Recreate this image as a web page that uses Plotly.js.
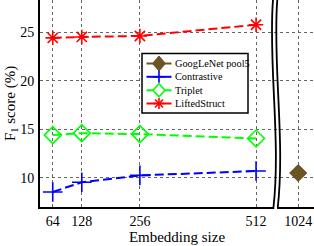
<!DOCTYPE html>
<html>
<head>
<meta charset="utf-8">
<script src="https://cdn.plot.ly/plotly-3.0.1.min.js"></script>
<style>html,body{margin:0;padding:0;background:#fff;}#chart{width:314px;height:246px;}</style>
</head>
<body>
<div id="chart"></div>
<script>
// Data
var embeddingSizes = [64, 128, 256, 512];
var baselineSize = [1024];
var contrastive = [8.55, 9.55, 10.25, 10.7];
var triplet = [14.4, 14.6, 14.5, 14.05];
var liftedStruct = [24.4, 24.5, 24.6, 25.75];
var googlenetPool5 = [10.5];
var seriesNames = ['GoogLeNet pool5', 'Contrastive', 'Triplet', 'LiftedStruct'];
var xTickVals = [64, 128, 256, 512, 1024];
var xTickText = ['64', '128', '256', '512', '1024'];
var yTickVals = [10, 15, 20, 25];

// Broken-axis scale: values above 512 are compressed after the break
function brokenX(v) { return v <= 512 ? v : 512 + (v - 512) * 0.1816; }

var W = 314, H = 246, L = 40, R = 0, T = 0, B = 39;
var pw = W - L - R, ph = H - T - B;
function px(x) { return (x - L) / pw; }
function py(y) { return 1 - (y - T) / ph; }

var font = 'Liberation Serif';
var colors = ['#6b5423', '#0000ff', '#00ff00', '#ff0000'];

var traces = [
  {x: baselineSize.map(brokenX), y: googlenetPool5, name: seriesNames[0], mode: 'lines+markers',
   line: {color: colors[0], width: 2}, marker: {symbol: 'diamond', size: 14, color: colors[0]}},
  {x: embeddingSizes.map(brokenX), y: contrastive, name: seriesNames[1], mode: 'lines+markers',
   line: {color: colors[1], width: 2, dash: '9px,4px'}, marker: {symbol: 'cross-thin-open', size: 14, color: colors[1], line: {width: 1.6, color: colors[1]}}},
  {x: embeddingSizes.map(brokenX), y: triplet, name: seriesNames[2], mode: 'lines+markers',
   line: {color: colors[2], width: 2, dash: '9px,4px'}, marker: {symbol: 'diamond-open', size: 13, color: colors[2], line: {width: 1.6, color: colors[2]}}},
  {x: embeddingSizes.map(brokenX), y: liftedStruct, name: seriesNames[3], mode: 'lines+markers',
   line: {color: colors[3], width: 2, dash: '9px,4px'}, marker: {symbol: 'asterisk-open', size: 12, color: colors[3], line: {width: 1.6, color: colors[3]}}}
];

function brk(x0) {
  return 'M ' + px(x0) + ',' + py(0) + ' C ' + px(x0 - 5) + ',' + py(60) + ' ' + px(x0 + 8) + ',' + py(140) + ' ' + px(x0 + 0.5) + ',' + py(207);
}
function seg(x0, y0, x1, y1, c, w) {
  return {type: 'line', xref: 'paper', yref: 'paper', x0: px(x0), y0: py(y0), x1: px(x1), y1: py(y1), line: {color: c, width: w}, layer: 'above'};
}
function poly(pts, c, fill, w) {
  var d = pts.map(function (p, i) { return (i ? 'L ' : 'M ') + px(p[0]) + ',' + py(p[1]); }).join(' ') + ' Z';
  return {type: 'path', xref: 'paper', yref: 'paper', path: d, fillcolor: fill, line: {color: c, width: w}, layer: 'above'};
}

var shapes = [
  {type: 'rect', xref: 'paper', yref: 'paper', x0: px(274.3), x1: px(277), y0: py(205), y1: py(210),
   fillcolor: '#fff', line: {width: 0}, layer: 'above'},
  {type: 'path', xref: 'paper', yref: 'paper', path: brk(273), line: {color: '#000', width: 1.8}, layer: 'above'},
  {type: 'path', xref: 'paper', yref: 'paper', path: brk(277.3), line: {color: '#000', width: 1.8}, layer: 'above'},
  {type: 'rect', xref: 'paper', yref: 'paper', x0: px(142), x1: px(248), y0: py(53.5), y1: py(113),
   fillcolor: '#fff', line: {color: '#000', width: 1.5}, layer: 'above'}
];
var annotations = [];
var rowY = [63.5, 76.8, 90.3, 103.5];
var lx0 = 146.5, lx1 = 171.5, mx = 159;
rowY.forEach(function (y, i) {
  shapes.push(seg(lx0, y, lx1, y, colors[i], 2));
  annotations.push({xref: 'paper', yref: 'paper', x: px(172.5), y: py(y), xanchor: 'left', yanchor: 'middle',
    text: seriesNames[i], showarrow: false, font: {family: font, size: 10.3, color: '#000'}});
});
var r = 6.5;
shapes.push(poly([[mx, rowY[0] - r - 1], [mx + r, rowY[0]], [mx, rowY[0] + r + 1], [mx - r, rowY[0]]], colors[0], colors[0], 1));
shapes.push(seg(mx - 6, rowY[1], mx + 6, rowY[1], colors[1], 1.6));
shapes.push(seg(mx, rowY[1] - 6, mx, rowY[1] + 6, colors[1], 1.6));
shapes.push(poly([[mx, rowY[2] - 6.5], [mx + 6, rowY[2]], [mx, rowY[2] + 6.5], [mx - 6, rowY[2]]], colors[2], '#fff', 1.6));
var a = 5.5, d = 4;
shapes.push(seg(mx - a, rowY[3], mx + a, rowY[3], colors[3], 1.6));
shapes.push(seg(mx, rowY[3] - a, mx, rowY[3] + a, colors[3], 1.6));
shapes.push(seg(mx - d, rowY[3] - d, mx + d, rowY[3] + d, colors[3], 1.6));
shapes.push(seg(mx - d, rowY[3] + d, mx + d, rowY[3] - d, colors[3], 1.6));

var layout = {
  width: W, height: H,
  margin: {l: L, r: R, t: T, b: B},
  paper_bgcolor: '#fff', plot_bgcolor: '#fff',
  font: {family: font, size: 13, color: '#000'},
  showlegend: false,
  xaxis: {
    range: [35.9, 639.7], tickmode: 'array', tickvals: xTickVals.map(brokenX), ticktext: xTickText,
    showgrid: true, gridcolor: '#666', griddash: 'dot', gridwidth: 1,
    showline: true, linecolor: '#000', linewidth: 2, ticks: '', zeroline: false,
    tickfont: {family: font, size: 14}, ticklabelstandoff: 0,
    title: {text: 'Embedding size', font: {family: font, size: 15}, standoff: 0}
  },
  yaxis: {
    range: [7, 28.3], tickmode: 'array', tickvals: yTickVals,
    showgrid: true, gridcolor: '#666', griddash: 'dot', gridwidth: 1,
    showline: true, linecolor: '#000', linewidth: 2, ticks: '', zeroline: false,
    tickfont: {family: font, size: 14}, ticklabelstandoff: 1,
    title: {text: 'F<sub>1</sub> score (%)', font: {family: font, size: 15}, standoff: 1}
  },
  shapes: shapes,
  annotations: annotations
};

Plotly.newPlot('chart', traces, layout, {displayModeBar: false, staticPlot: true});
</script>
</body>
</html>
